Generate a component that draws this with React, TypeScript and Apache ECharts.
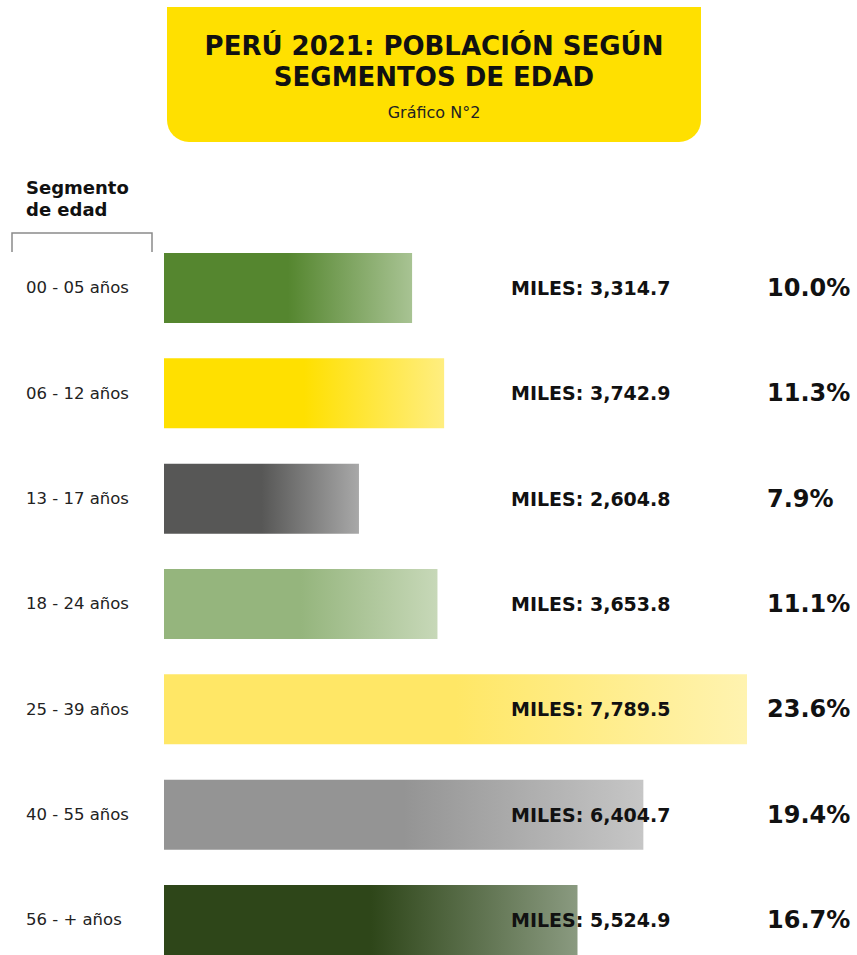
import React, { useEffect, useRef } from "react";
import * as echarts from "echarts";

const categories = [
  "00 - 05 años",
  "06 - 12 años",
  "13 - 17 años",
  "18 - 24 años",
  "25 - 39 años",
  "40 - 55 años",
  "56 - + años",
];
const milesValues = [3314.7, 3742.9, 2604.8, 3653.8, 7789.5, 6404.7, 5524.9];
const percentLabels = ["10.0%", "11.3%", "7.9%", "11.1%", "23.6%", "19.4%", "16.7%"];
const baseColors = ["#55862F", "#FFE000", "#575756", "#95B57D", "#FFE766", "#949494", "#2E4619"];
const fadeColors = ["#A8C393", "#FFEE80", "#A8A8A8", "#C7D8B8", "#FFF3B0", "#C6C6C6", "#8A9A80"];

const FONT = "DejaVu Sans";

function fmt(v: number) {
  return v.toLocaleString("en-US", { minimumFractionDigits: 1, maximumFractionDigits: 1 });
}

export default function App() {
  const ref = useRef<HTMLDivElement>(null);
  useEffect(() => {
    if (!ref.current) return;
    const chart = echarts.init(ref.current, undefined, { renderer: "svg" });
    const gridLeft = 164;
    const option: any = {
      animation: false,
      backgroundColor: "#ffffff",
      grid: { left: gridLeft, top: 235.33, width: 583, height: 737.33, containLabel: false },
      xAxis: { type: "value", min: 0, max: 7789.5, show: false },
      yAxis: {
        type: "category",
        inverse: true,
        data: categories,
        axisLine: { show: false },
        axisTick: { show: false },
        splitLine: { show: false },
        axisLabel: {
          align: "left",
          margin: 138,
          fontSize: 16.5,
          color: "#222222",
          fontFamily: FONT,
        },
      },
      graphic: [
        {
          type: "rect",
          shape: { x: 167, y: 7, width: 534, height: 135, r: [0, 0, 22, 22] },
          style: { fill: "#FFE000" },
        },
        {
          type: "text",
          x: 434,
          y: 46,
          style: {
            text: "{a|PERÚ 2021: }{b|POBLACIÓN SEGÚN}",
            align: "center",
            verticalAlign: "middle",
            rich: {
              a: { fontSize: 26, fontWeight: 900, fontFamily: FONT, fill: "#111111" },
              b: { fontSize: 26, fontWeight: "bold", fontFamily: FONT, fill: "#111111" },
            },
          },
        },
        {
          type: "text",
          x: 434,
          y: 77,
          style: {
            text: "SEGMENTOS DE EDAD",
            align: "center",
            verticalAlign: "middle",
            fontSize: 26,
            fontWeight: "bold",
            fontFamily: FONT,
            fill: "#111111",
          },
        },
        {
          type: "text",
          x: 434,
          y: 112,
          style: {
            text: "Gráfico N°2",
            align: "center",
            verticalAlign: "middle",
            fontSize: 16,
            fontFamily: FONT,
            fill: "#222222",
          },
        },
        {
          type: "text",
          x: 26,
          y: 187,
          style: {
            text: "Segmento",
            align: "left",
            verticalAlign: "middle",
            fontSize: 18,
            fontWeight: "bold",
            fontFamily: FONT,
            fill: "#111111",
          },
        },
        {
          type: "text",
          x: 26,
          y: 209,
          style: {
            text: "de edad",
            align: "left",
            verticalAlign: "middle",
            fontSize: 18,
            fontWeight: "bold",
            fontFamily: FONT,
            fill: "#111111",
          },
        },
        {
          type: "polyline",
          shape: { points: [[12, 252], [12, 233], [152, 233], [152, 252]] },
          style: { stroke: "#8a8a8a", lineWidth: 1.5, fill: null },
        },
      ],
      series: [
        {
          type: "bar",
          barWidth: 70,
          data: milesValues.map((v, i) => ({
            value: v,
            itemStyle: {
              color: new echarts.graphic.LinearGradient(0, 0, 1, 0, [
                { offset: 0, color: baseColors[i] },
                { offset: 0.5, color: baseColors[i] },
                { offset: 1, color: fadeColors[i] },
              ]),
            },
            label: {
              show: true,
              position: [511 - gridLeft, 35],
              verticalAlign: "middle",
              align: "left",
              formatter: () => "{m|MILES: " + fmt(v) + "}{p|" + percentLabels[i] + "}",
              rich: {
                m: { fontSize: 19, fontWeight: "bold", fontFamily: FONT, color: "#111111", width: 256 },
                p: { fontSize: 24, fontWeight: 900, fontFamily: FONT, color: "#111111" },
              },
            },
          })),
        },
      ],
    };
    chart.setOption(option);
    return () => chart.dispose();
  }, []);
  return (
    <div
      ref={ref}
      style={{ position: "fixed", left: 0, top: 0, width: 857, height: 975, background: "#fff" }}
    />
  );
}
